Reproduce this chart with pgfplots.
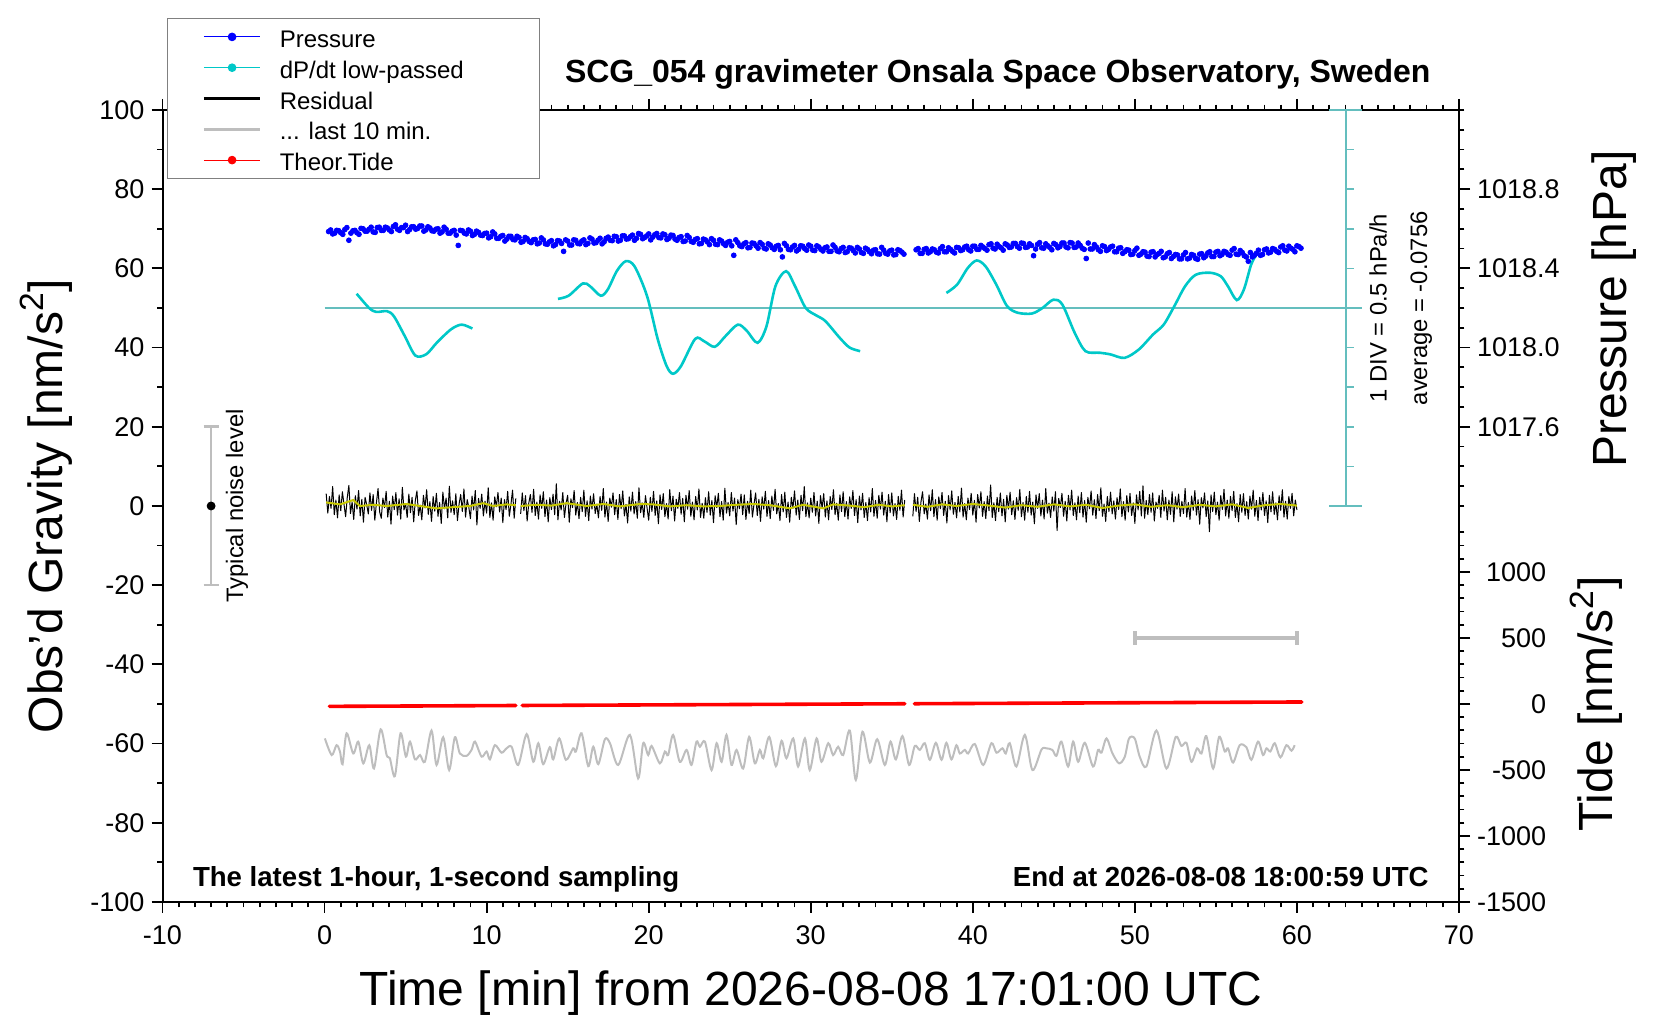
\documentclass[border=0pt]{standalone}
\usepackage{fontspec}
\setmainfont{Liberation Sans}
\usepackage{pgfplots}
\pgfplotsset{compat=1.18}
\definecolor{pblue}{RGB}{0,0,255}
\definecolor{dcyan}{RGB}{0,200,200}
\definecolor{scalec}{RGB}{100,190,190}
\definecolor{lgray}{RGB}{190,190,190}
\definecolor{yel}{RGB}{200,200,0}
\definecolor{legframe}{RGB}{128,128,128}
\pgfplotsset{
  myaxis/.style={
    at={(81.25pt,59pt)}, anchor=south west,
    scale only axis, width=648.25pt, height=396pt,
    xmin=-10, xmax=70,
    tick align=outside,
    major tick length=5.5pt, minor tick length=2.7pt,
    every tick/.style={black, line width=0.9pt},
    axis line style={line width=1pt},
    tick label style={font=\fontsize{13.5}{16}\selectfont},
    /pgf/number format/assume math mode=true,
    /pgf/number format/1000 sep={},
  }
}
\newcommand{\lent}[1]{\makebox[129.8pt][l]{\rule[-3.2pt]{0pt}{15.35pt}#1}}
\begin{document}
\begin{tikzpicture}
\path[use as bounding box] (0,0) rectangle (830pt,510pt);
\begin{axis}[myaxis,
  ymin=-100, ymax=100,
  xtick={-10,0,...,70}, minor x tick num=9,
  ytick={-100,-80,...,100}, minor y tick num=1,
  xtick pos=both, ytick pos=left,
  xticklabel style={yshift=-3pt},
  clip=false,
  legend cell align=left,
  legend style={at={(0.0037,1.1162)}, anchor=north west, draw=legframe, line width=0.5pt, fill=white,
    inner xsep=0pt, inner ysep=2.4pt, row sep=1.75pt, column sep=0pt, nodes={inner sep=0pt},
    font=\fontsize{12}{14}\selectfont},
]
\addlegendimage{legend image code/.code={\path[draw=none,fill=none] (0pt,-1pt) rectangle (56pt,1pt); \draw[pblue, line width=0.5pt] (18pt,0pt) -- (46.3pt,0pt); \fill[pblue] (32.15pt,0pt) circle (1.9pt);}}
\addlegendentry{\lent{Pressure}}
\addlegendimage{legend image code/.code={\path[draw=none,fill=none] (0pt,-1pt) rectangle (56pt,1pt); \draw[dcyan, line width=0.5pt] (18pt,0pt) -- (46.3pt,0pt); \fill[dcyan] (32.15pt,0pt) circle (1.9pt);}}
\addlegendentry{\lent{dP/dt low-passed}}
\addlegendimage{legend image code/.code={\path[draw=none,fill=none] (0pt,-1pt) rectangle (56pt,1pt); \draw[black, line width=1.2pt] (18pt,0pt) -- (46.3pt,0pt);}}
\addlegendentry{\lent{Residual}}
\addlegendimage{legend image code/.code={\path[draw=none,fill=none] (0pt,-1pt) rectangle (56pt,1pt); \draw[lgray, line width=1.8pt] (18pt,0pt) -- (46.3pt,0pt);}}
\addlegendentry{\lent{... last 10 min.}}
\addlegendimage{legend image code/.code={\path[draw=none,fill=none] (0pt,-1pt) rectangle (56pt,1pt); \draw[red, line width=0.5pt] (18pt,0pt) -- (46.3pt,0pt); \fill[red] (32.15pt,0pt) circle (1.9pt);}}
\addlegendentry{\lent{Theor.Tide}}

% typical noise level
\addplot[lgray, line width=1.3pt, forget plot] coordinates {(-7,-20) (-7,20)};
\addplot[lgray, line width=1.3pt, forget plot] coordinates {(-7.46,20) (-6.54,20)};
\addplot[lgray, line width=1.3pt, forget plot] coordinates {(-7.46,-20) (-6.54,-20)};
\addplot[only marks, mark=*, mark size=2pt, black, forget plot] coordinates {(-7,0)};

% gray curve
\addplot[lgray, line width=1pt, smooth, forget plot] coordinates {
(0.02,-58.7)(0.44,-62.9)(0.74,-60.4)(0.95,-62.0)(1.11,-65.2)(1.36,-57.4)(1.77,-62.5)(2.08,-59.5)(2.39,-65.0)(2.76,-60.4)(3.05,-66.3)(3.46,-56.4)(3.83,-62.9)(4.03,-63.7)(4.34,-68.2)(4.69,-57.4)(5.02,-63.3)(5.27,-59.5)(5.58,-64.0)(5.89,-62.9)(6.19,-64.6)(6.6,-56.7)(6.91,-65.4)(7.32,-58.4)(7.69,-66.7)(8.04,-58.4)(8.35,-62.5)(8.76,-63.1)(9.07,-61.6)(9.28,-59.5)(9.69,-63.3)(10.0,-62.0)(10.2,-64.0)(10.51,-60.4)(10.92,-62.3)(11.23,-61.2)(11.54,-60.8)(11.95,-65.4)(12.47,-57.6)(12.88,-64.6)(13.19,-59.9)(13.49,-65.2)(13.9,-60.9)(14.11,-64.0)(14.48,-58.7)(14.89,-64.1)(15.34,-61.2)(15.51,-62.0)(15.86,-57.4)(16.27,-65.7)(16.58,-60.8)(16.89,-65.2)(17.3,-58.9)(17.61,-59.9)(18.12,-65.4)(18.84,-57.8)(19.35,-68.8)(19.66,-59.9)(19.97,-62.9)(20.18,-60.6)(20.69,-65.0)(21.0,-62.0)(21.2,-62.9)(21.51,-57.8)(21.92,-64.6)(22.34,-61.6)(22.64,-65.4)(22.95,-59.5)(23.16,-60.8)(23.47,-59.5)(23.88,-66.7)(24.19,-59.9)(24.5,-64.6)(24.8,-57.8)(25.11,-65.4)(25.42,-61.6)(25.83,-66.3)(26.2,-58.3)(26.55,-65.0)(26.86,-61.6)(27.07,-63.7)(27.44,-58.3)(27.85,-65.7)(28.2,-59.3)(28.5,-63.7)(28.92,-58.7)(29.22,-65.8)(29.64,-58.7)(29.94,-66.7)(30.36,-58.7)(30.66,-64.6)(31.08,-59.9)(31.38,-62.9)(31.69,-60.8)
(32.0,-62.9)(32.41,-56.7)(32.78,-69.2)(33.19,-57.0)(33.65,-64.8)(34.1,-58.9)(34.57,-65.4)(34.92,-59.5)(35.25,-64.0)(35.66,-58.1)(36.07,-65.4)(36.42,-60.6)(36.73,-61.6)(37.04,-59.9)(37.35,-64.1)(37.72,-59.8)(38.07,-64.1)(38.37,-59.8)(38.68,-64.0)(38.99,-60.4)(39.2,-62.5)(39.51,-61.6)(39.71,-62.5)(40.12,-60.1)(40.64,-65.4)(41.15,-59.9)(41.46,-62.3)(41.83,-61.2)(42.03,-62.5)(42.28,-59.9)(42.69,-65.8)(43.21,-57.8)(43.68,-66.7)(44.24,-61.5)(44.54,-61.2)(44.91,-61.6)(45.16,-63.1)(45.47,-59.5)(45.88,-65.8)(46.19,-59.5)(46.5,-64.6)(46.91,-59.8)(47.42,-65.8)(47.73,-61.6)(47.94,-62.3)(48.25,-58.7)(48.62,-62.5)(49.03,-65.0)(49.38,-63.3)(49.64,-58.7)(49.99,-58.7)(50.3,-63.3)(50.71,-65.8)(51.33,-56.7)(51.95,-66.3)(52.52,-58.3)(52.87,-60.6)(53.18,-59.8)(53.49,-64.6)(53.84,-61.2)(54.11,-62.5)(54.41,-58.1)(54.83,-66.3)(55.2,-58.3)(55.55,-62.0)(55.75,-61.2)(56.06,-64.8)(56.47,-60.4)(56.88,-60.9)(57.19,-64.1)(57.6,-59.5)(57.91,-62.9)(58.12,-61.2)(58.36,-62.0)(58.63,-59.9)(58.98,-63.5)(59.35,-60.4)(59.66,-61.8)(59.86,-60.4)
};

% residual
\addplot[black, line width=0.5pt, line join=round, forget plot] coordinates {
(0.1,3.1)(0.2,-1.8)(0.3,2.4)(0.4,-0.6)(0.5,4.9)(0.6,-2.2)(0.7,1.5)(0.8,-3.0)(0.9,2.8)
(1.0,-1.2)(1.1,3.6)(1.2,0.4)(1.3,-2.7)(1.4,2.1)(1.5,5.2)(1.6,-1.9)(1.7,1.0)(1.8,-3.4)(1.9,2.6)
(2.0,-0.8)(2.1,3.9)(2.2,-2.5)(2.3,1.7)(2.4,-4.1)(2.5,2.2)(2.6,0.3)(2.7,-2.0)(2.8,3.3)(2.9,-1.1)
(3.0,2.9)(3.1,-3.6)(3.2,0.8)(3.3,4.4)(3.4,-1.5)(3.5,-3.1)(3.6,2.0)(3.7,-0.4)(3.8,3.7)(3.9,-2.8)
(4.0,1.2)(4.1,-4.6)(4.2,2.5)(4.3,-0.9)(4.4,3.4)(4.5,-2.3)(4.6,1.8)(4.7,-3.3)(4.8,4.7)(4.9,-1.0)
(5.0,0.6)(5.1,-2.9)(5.2,3.0)(5.3,-1.7)(5.4,2.2)(5.5,-4.0)(5.6,1.4)(5.7,3.8)(5.8,-2.4)(5.9,0.2)
(6.0,-3.5)(6.1,2.7)(6.2,-0.5)(6.3,4.1)(6.4,-2.1)(6.5,1.1)(6.6,-3.9)(6.7,2.4)(6.8,-1.3)(6.9,3.2)
(7.0,-2.6)(7.1,0.9)(7.2,-4.4)(7.3,3.5)(7.4,-0.7)(7.5,2.0)(7.6,-3.0)(7.7,5.0)(7.8,-1.6)(7.9,1.3)
(8.0,-2.2)(8.1,3.1)(8.2,-3.7)(8.3,0.5)(8.4,2.9)(8.5,-1.4)(8.6,4.3)(8.7,-2.8)(8.8,1.6)(8.9,-0.3)
(9.0,-3.2)(9.1,2.5)(9.2,-1.0)(9.3,3.9)(9.4,-4.8)(9.5,1.9)(9.6,-0.6)(9.7,3.0)(9.8,-2.5)(9.9,1.2)
(10.0,-1.8)(10.1,4.6)(10.2,-2.9)(10.3,0.8)(10.4,-3.6)(10.5,2.3)(10.6,-0.2)(10.7,3.4)(10.8,-1.5)(10.9,2.0)
(11.0,-4.2)(11.1,1.6)(11.2,-0.9)(11.3,3.7)(11.4,-2.6)(11.5,0.4)(11.6,4.0)(11.7,-3.1)(11.8,1.9)
};
\addplot[black, line width=0.5pt, line join=round, forget plot] coordinates {
(12.1,-2.0)(12.2,3.3)(12.3,-1.2)(12.4,2.6)(12.5,-3.8)(12.6,0.7)(12.7,2.9)(12.8,-1.6)(12.9,4.2)
(13.0,-2.4)(13.1,1.0)(13.2,-3.3)(13.3,2.8)(13.4,-0.6)(13.5,3.6)(13.6,-2.7)(13.7,1.5)(13.8,-4.0)(13.9,2.1)
(14.0,-0.9)(14.1,3.0)(14.2,-2.2)(14.3,5.6)(14.4,-3.5)(14.5,1.2)(14.6,-1.0)(14.7,3.4)(14.8,-2.9)(14.9,0.6)
(15.0,2.7)(15.1,-4.1)(15.2,1.8)(15.3,-0.4)(15.4,3.9)(15.5,-2.3)(15.6,0.9)(15.7,-3.2)(15.8,2.2)(15.9,-1.4)
(16.0,4.0)(16.1,-2.6)(16.2,1.3)(16.3,-3.7)(16.4,2.5)(16.5,-0.8)(16.6,3.1)(16.7,-1.9)(16.8,0.5)(16.9,-3.0)
(17.0,2.4)(17.1,-1.1)(17.2,4.4)(17.3,-2.8)(17.4,1.0)(17.5,-3.9)(17.6,2.0)(17.7,-0.3)(17.8,3.3)(17.9,-2.2)
(18.0,1.6)(18.1,-3.4)(18.2,2.9)(18.3,-0.7)(18.4,3.8)(18.5,-2.5)(18.6,0.4)(18.7,-4.3)(18.8,2.3)(18.9,-1.3)
(19.0,3.5)(19.1,-2.0)(19.2,1.1)(19.3,-3.1)(19.4,4.6)(19.5,-1.7)(19.6,0.8)(19.7,-2.9)(19.8,2.6)(19.9,-0.5)
(20.0,-3.6)(20.1,2.2)(20.2,-1.4)(20.3,3.7)(20.4,-2.4)(20.5,1.3)(20.6,-4.5)(20.7,2.8)(20.8,-0.9)(20.9,3.1)
(21.0,-2.7)(21.1,0.6)(21.2,-3.3)(21.3,4.1)(21.4,-1.2)(21.5,2.5)(21.6,-3.8)(21.7,1.7)(21.8,-0.6)(21.9,3.4)
(22.0,-2.1)(22.1,1.9)(22.2,-4.0)(22.3,2.7)(22.4,-0.8)(22.5,3.9)(22.6,-2.6)(22.7,1.0)(22.8,-3.5)(22.9,2.4)
(23.0,-1.0)(23.1,4.3)(23.2,-2.9)(23.3,0.7)(23.4,-3.1)(23.5,2.1)(23.6,-1.6)(23.7,3.6)(23.8,-2.3)(23.9,1.4)
(24.0,-4.2)(24.1,2.6)(24.2,-0.4)(24.3,3.2)(24.4,-2.7)(24.5,1.1)(24.6,-3.6)(24.7,4.5)(24.8,-1.8)(24.9,0.9)
(25.0,-2.5)(25.1,3.4)(25.2,-1.3)(25.3,2.0)(25.4,-4.7)(25.5,1.6)(25.6,-0.7)(25.7,3.0)(25.8,-2.2)(25.9,2.8)
(26.0,-3.4)(26.1,1.2)(26.2,-1.9)(26.3,4.0)(26.4,-2.8)(26.5,0.5)(26.6,3.3)(26.7,-2.4)(26.8,1.7)(26.9,-3.9)
(27.0,2.3)(27.1,-0.8)(27.2,3.7)(27.3,-2.6)(27.4,1.4)(27.5,-3.2)(27.6,2.5)(27.7,-1.1)(27.8,4.2)(27.9,-2.0)
(28.0,0.6)(28.1,-3.7)(28.2,2.9)(28.3,-1.5)(28.4,3.5)(28.5,-2.9)(28.6,1.0)(28.7,-4.1)(28.8,2.2)(28.9,-0.6)
(29.0,3.8)(29.1,-2.3)(29.2,1.5)(29.3,-3.4)(29.4,2.7)(29.5,-1.2)(29.6,4.9)(29.7,-2.7)(29.8,0.8)(29.9,-3.0)
(30.0,2.0)(30.1,-1.6)(30.2,3.4)(30.3,-2.5)(30.4,1.2)(30.5,-4.4)(30.6,2.6)(30.7,-0.5)(30.8,3.1)(30.9,-2.8)
(31.0,1.3)(31.1,-3.5)(31.2,2.4)(31.3,-0.9)(31.4,4.1)(31.5,-2.2)(31.6,0.7)(31.7,-3.6)(31.8,2.8)(31.9,-1.4)
(32.0,3.6)(32.1,-2.7)(32.2,1.1)(32.3,-3.3)(32.4,2.3)(32.5,-0.6)(32.6,3.9)(32.7,-2.4)(32.8,1.6)(32.9,-4.2)
(33.0,2.5)(33.1,-1.0)(33.2,3.2)(33.3,-2.9)(33.4,0.9)(33.5,-3.7)(33.6,2.1)(33.7,-1.5)(33.8,4.4)(33.9,-2.6)
(34.0,1.4)(34.1,-3.1)(34.2,2.7)(34.3,-0.8)(34.4,3.5)(34.5,-2.3)(34.6,1.2)(34.7,-4.0)(34.8,2.9)(34.9,-1.7)
(35.0,3.3)(35.1,-2.5)(35.2,0.6)(35.3,-3.4)(35.4,2.4)(35.5,-1.1)(35.6,4.0)(35.7,-2.8)(35.8,1.5)
};
\addplot[black, line width=0.5pt, line join=round, forget plot] coordinates {
(36.3,-2.6)(36.4,3.1)(36.5,-1.4)(36.6,2.2)(36.7,-3.9)(36.8,1.0)(36.9,3.6)
(37.0,-2.0)(37.1,0.5)(37.2,-3.3)(37.3,2.8)(37.4,-1.2)(37.5,4.1)(37.6,-2.7)(37.7,1.6)(37.8,-3.6)(37.9,2.3)
(38.0,-0.7)(38.1,3.4)(38.2,-2.4)(38.3,1.2)(38.4,-4.3)(38.5,2.6)(38.6,-1.0)(38.7,3.8)(38.8,-2.1)(38.9,0.9)
(39.0,-3.0)(39.1,2.4)(39.2,-1.5)(39.3,4.5)(39.4,-2.8)(39.5,0.6)(39.6,-3.5)(39.7,2.0)(39.8,-0.9)(39.9,3.2)
(40.0,-2.3)(40.1,1.4)(40.2,-4.1)(40.3,2.9)(40.4,-0.5)(40.5,3.6)(40.6,-2.6)(40.7,1.1)(40.8,-3.2)(40.9,2.5)
(41.0,-1.2)(41.1,5.3)(41.2,-2.9)(41.3,0.8)(41.4,-3.7)(41.5,2.2)(41.6,-1.4)(41.7,3.3)(41.8,-2.5)(41.9,1.7)
(42.0,-4.0)(42.1,2.7)(42.2,-0.8)(42.3,3.5)(42.4,-2.2)(42.5,1.3)(42.6,-3.4)(42.7,2.1)(42.8,-1.1)(42.9,4.2)
(43.0,-2.7)(43.1,0.9)(43.2,-3.6)(43.3,2.4)(43.4,-1.6)(43.5,3.7)(43.6,-2.3)(43.7,1.0)(43.8,-4.5)(43.9,2.8)
(44.0,-0.6)(44.1,3.1)(44.2,-2.5)(44.3,1.5)(44.4,-3.3)(44.5,4.4)(44.6,-1.8)(44.7,0.7)(44.8,-2.9)(44.9,2.3)
(45.0,-1.3)(45.1,3.6)(45.2,-6.2)(45.3,1.9)(45.4,-0.4)(45.5,3.2)(45.6,-2.6)(45.7,1.2)(45.8,-3.8)(45.9,2.7)
(46.0,-1.0)(46.1,4.0)(46.2,-2.4)(46.3,0.8)(46.4,-3.5)(46.5,2.5)(46.6,-1.7)(46.7,3.4)(46.8,-2.8)(46.9,1.4)
(47.0,-4.1)(47.1,2.2)(47.2,-0.7)(47.3,3.8)(47.4,-2.3)(47.5,1.6)(47.6,-3.2)(47.7,2.9)(47.8,-1.2)(47.9,4.6)
(48.0,-2.6)(48.1,0.5)(48.2,-3.9)(48.3,2.4)(48.4,-1.4)(48.5,3.5)(48.6,-2.0)(48.7,1.3)(48.8,-3.3)(48.9,2.1)
(49.0,-0.9)(49.1,4.3)(49.2,-2.7)(49.3,1.1)(49.4,-3.6)(49.5,2.6)(49.6,-1.5)(49.7,3.2)(49.8,-2.4)(49.9,0.8)
(50.0,-4.4)(50.1,2.8)(50.2,-1.0)(50.3,3.7)(50.4,-2.5)(50.5,5.1)(50.6,-3.1)(50.7,1.4)(50.8,-2.2)(50.9,2.9)
(51.0,-1.6)(51.1,3.3)(51.2,-3.8)(51.3,1.0)(51.4,-0.6)(51.5,2.7)(51.6,-2.9)(51.7,4.0)(51.8,-1.3)(51.9,2.2)
(52.0,-3.5)(52.1,1.5)(52.2,-2.1)(52.3,3.6)(52.4,-4.0)(52.5,2.3)(52.6,-0.8)(52.7,3.0)(52.8,-2.6)(52.9,1.2)
(53.0,-1.9)(53.1,4.4)(53.2,-2.8)(53.3,0.9)(53.4,-3.4)(53.5,2.5)(53.6,-1.1)(53.7,3.9)(53.8,-2.3)(53.9,1.6)
(54.0,-4.6)(54.1,2.1)(54.2,-0.5)(54.3,3.3)(54.4,-2.7)(54.5,1.3)(54.6,-6.5)(54.7,2.8)(54.8,-1.4)(54.9,3.5)
(55.0,-2.2)(55.1,1.0)(55.2,-3.6)(55.3,2.6)(55.4,-0.9)(55.5,4.2)(55.6,-2.5)(55.7,1.5)(55.8,-3.1)(55.9,2.4)
(56.0,-1.2)(56.1,3.7)(56.2,-2.9)(56.3,0.6)(56.4,-4.0)(56.5,2.9)(56.6,-1.6)(56.7,3.1)(56.8,-2.4)(56.9,1.1)
(57.0,-3.3)(57.1,2.5)(57.2,-0.8)(57.3,4.0)(57.4,-2.6)(57.5,1.4)(57.6,-3.7)(57.7,2.2)(57.8,-1.0)(57.9,3.4)
(58.0,-2.4)(58.1,1.3)(58.2,-4.2)(58.3,2.7)(58.4,-1.5)(58.5,3.6)(58.6,-2.1)(58.7,0.8)(58.8,-3.5)(58.9,2.6)
(59.0,-1.1)(59.1,4.1)(59.2,-2.8)(59.3,1.2)(59.4,-3.3)(59.5,2.4)(59.6,-0.6)(59.7,3.2)(59.8,-2.5)(59.9,1.5)
(60.0,-1.0)
};
% smoothed residual
\addplot[yel, line width=1pt, forget plot] coordinates {
(0.1,0.9)(0.95,0.4)(1.77,1.5)(2.18,0.0)(3.0,0.3)(3.83,0.0)(5.06,0.5)(5.88,0.0)(6.91,-0.6)(7.94,-0.3)(8.97,0.0)(9.79,0.7)(10.41,0.0)(11.23,0.4)(11.8,0.2)};
\addplot[yel, line width=1pt, forget plot] coordinates {
(12.1,0.0)(13.08,0.3)(14.0,0.1)(14.93,0.7)(16.17,0.0)(17.2,0.5)(18.22,-0.1)(19.46,0.5)(20.28,0.4)(21.31,-0.1)(22.34,0.2)(23.36,-0.1)(24.39,0.0)(25.42,0.3)(26.45,0.5)(27.48,0.2)(28.71,-0.6)(29.53,0.3)(30.77,-0.6)(31.38,0.4)(32.4,0.1)(33.3,-0.3)(34.2,0.3)(35.0,-0.1)(35.8,0.2)};
\addplot[yel, line width=1pt, forget plot] coordinates {
(36.3,0.3)(37.2,-0.2)(38.1,0.4)(39.0,0.0)(40.0,0.5)(41.0,0.1)(42.0,-0.4)(43.0,0.2)(44.0,-0.2)(45.0,0.4)(46.0,-0.1)(47.0,0.3)(48.0,-0.5)(49.0,0.1)(50.0,0.4)(51.0,-0.2)(52.0,0.2)(53.0,-0.3)(54.0,0.3)(55.0,-0.1)(56.0,0.4)(57.0,-0.5)(58.0,0.2)(59.0,0.5)(60.0,0.1)};

% pressure (gravity-equivalent units)
\addplot[only marks, mark=*, mark size=1.2pt, mark options={draw=pblue, fill=pblue}, forget plot] coordinates {
(0.25,69.3)(0.5,68.7)(0.75,69.6)(1.0,69.0)(1.25,69.8)(1.5,67.1)(1.75,69.5)(2.0,69.0)(2.25,70.1)(2.5,69.4)(2.75,69.9)(3.0,69.2)(3.25,70.3)(3.5,69.6)(3.75,70.4)(4.0,69.7)(4.25,70.6)(4.5,69.9)(4.75,70.3)(5.0,70.9)(5.25,69.8)(5.5,70.5)(5.75,70.1)(6.0,70.7)(6.25,69.7)(6.5,70.2)(6.75,69.4)(7.0,70.0)(7.25,69.2)(7.5,69.9)(7.75,68.9)(8.0,69.6)(8.25,65.8)(8.5,69.5)(8.75,68.7)(9.0,69.4)(9.25,68.6)(9.5,69.1)(9.75,68.3)(10.0,68.9)(10.25,68.0)(10.5,68.7)(10.75,67.6)(11.0,68.3)(11.25,67.4)(11.5,68.1)(11.75,67.2)(12.0,67.8)(12.25,66.8)(12.5,67.5)(12.75,66.5)(13.0,67.3)(13.25,66.4)(13.5,67.2)(13.75,66.1)(14.0,67.0)(14.25,66.0)(14.5,66.9)(14.75,64.3)(15.0,66.9)(15.25,65.9)(15.5,67.1)(15.75,66.2)(16.0,67.2)(16.25,66.3)(16.5,67.4)(16.75,66.5)(17.0,67.6)(17.25,66.7)(17.5,67.9)(17.75,67.0)(18.0,68.0)(18.25,67.1)(18.5,68.2)(18.75,67.5)(19.0,68.4)(19.25,67.6)(19.5,68.6)(19.75,67.8)(20.0,68.7)(20.25,67.9)(20.5,68.8)(20.75,67.7)(21.0,68.5)(21.25,67.6)(21.5,68.3)(21.75,67.1)(22.0,68.0)(22.25,66.9)(22.5,67.8)(22.75,66.6)(23.0,67.5)(23.25,66.3)(23.5,67.2)(23.75,66.0)(24.0,67.1)(24.25,66.0)(24.5,66.9)(24.75,65.8)(25.0,66.8)(25.25,63.3)(25.5,66.5)(25.75,65.5)(26.0,66.5)(26.25,65.3)(26.5,66.3)(26.75,65.1)(27.0,66.1)(27.25,64.9)(27.5,65.9)(27.75,64.8)(28.0,65.8)(28.25,62.9)(28.5,65.7)(28.75,64.7)(29.0,65.8)(29.25,64.8)(29.5,65.6)(29.75,64.6)(30.0,65.6)(30.25,64.5)(30.5,65.4)(30.75,64.4)(31.0,65.4)(31.25,64.3)(31.5,65.3)(31.75,64.2)(32.0,65.3)(32.25,64.2)(32.5,65.1)(32.75,63.9)(33.0,64.9)(33.25,63.8)(33.5,64.8)(33.75,63.7)(34.0,64.7)(34.25,63.6)(34.5,64.6)(34.75,63.6)(35.0,64.6)(35.25,63.5)(35.5,64.5)(35.75,63.6)
(36.5,64.7)(36.75,63.8)(37.0,64.8)(37.25,63.9)(37.5,64.9)(37.75,64.1)(38.0,65.0)(38.25,64.2)(38.5,65.2)(38.75,64.3)(39.0,65.3)(39.25,64.5)(39.5,65.4)(39.75,64.7)(40.0,65.6)(40.25,64.8)(40.5,65.8)(40.75,65.0)(41.0,66.0)(41.25,65.1)(41.5,66.1)(41.75,65.2)(42.0,66.2)(42.25,65.3)(42.5,66.3)(42.75,65.5)(43.0,66.4)(43.25,65.3)(43.5,66.2)(43.75,63.2)(44.0,66.1)(44.25,65.2)(44.5,66.2)(44.75,65.3)(45.0,66.3)(45.25,65.2)(45.5,66.4)(45.75,65.4)(46.0,66.5)(46.25,65.3)(46.5,66.4)(46.75,65.1)(47.0,62.5)(47.25,64.9)(47.5,66.0)(47.75,64.7)(48.0,65.7)(48.25,64.5)(48.5,65.4)(48.75,64.2)(49.0,65.1)(49.25,63.8)(49.5,64.7)(49.75,63.5)(50.0,64.5)(50.25,63.3)(50.5,64.2)(50.75,63.1)(51.0,64.1)(51.25,62.9)(51.5,63.8)(51.75,62.7)(52.0,63.7)(52.25,62.5)(52.5,63.5)(52.75,62.4)(53.0,63.4)(53.25,62.4)(53.5,63.5)(53.75,62.5)(54.0,63.6)(54.25,62.7)(54.5,63.9)(54.75,63.0)(55.0,64.1)(55.25,63.2)(55.5,64.3)(55.75,63.5)(56.0,64.6)(56.25,63.6)(56.5,64.5)(56.75,63.2)(57.0,61.8)(57.25,62.9)(57.5,63.8)(57.75,63.3)(58.0,64.7)(58.25,63.9)(58.5,65.0)(58.75,64.3)(59.0,65.4)(59.25,64.6)(59.5,65.6)(59.75,64.8)(60.0,65.7)(60.25,65.1)
};
\addplot[only marks, mark=*, mark size=1.2pt, mark options={draw=pblue, fill=pblue}, forget plot] coordinates {
(0.375,69.7)(0.625,68.9)(0.875,69.5)(1.125,68.6)(1.375,70.3)(1.625,68.9)(1.875,69.6)(2.125,68.6)(2.375,70.0)(2.625,69.4)(2.875,70.4)(3.125,69.1)(3.375,70.4)(3.625,69.6)(3.875,70.2)(4.125,69.3)(4.375,71.0)(4.625,69.6)(4.875,70.3)(5.125,69.3)(5.375,70.5)(5.625,69.9)(5.875,70.7)(6.125,69.4)(6.375,70.5)(6.625,69.5)(6.875,69.9)(7.125,68.9)(7.375,70.4)(7.625,68.9)(7.875,69.4)(8.125,68.4)(8.375,69.6)(8.625,68.9)(8.875,69.7)(9.125,68.3)(9.375,69.4)(9.625,68.4)(9.875,68.8)(10.125,67.7)(10.375,69.2)(10.625,67.6)(10.875,68.1)(11.125,66.9)(11.375,68.1)(11.625,67.3)(11.875,68.1)(12.125,66.6)(12.375,67.8)(12.625,66.8)(12.875,67.2)(13.125,66.2)(13.375,67.7)(13.625,66.2)(13.875,66.7)(14.125,65.7)(14.375,67.0)(14.625,66.3)(14.875,67.2)(15.125,65.9)(15.375,67.2)(15.625,66.3)(15.875,66.9)(16.125,66.0)(16.375,67.7)(16.625,66.4)(16.875,67.1)(17.125,66.2)(17.375,67.6)(17.625,67.1)(17.875,68.1)(18.125,66.9)(18.375,68.2)(18.625,67.4)(18.875,68.0)(19.125,67.1)(19.375,68.8)(19.625,67.5)(19.875,68.2)(20.125,67.2)(20.375,68.5)(20.625,67.8)(20.875,68.7)(21.125,67.3)(21.375,68.4)(21.625,67.4)(21.875,67.8)(22.125,66.8)(22.375,68.3)(22.625,66.8)(22.875,67.3)(23.125,66.2)(23.375,67.4)(23.625,66.7)(23.875,67.5)(24.125,66.1)(24.375,67.2)(24.625,66.2)(24.875,66.6)(25.125,65.7)(25.375,67.2)(25.625,65.7)(25.875,66.2)(26.125,65.2)(26.375,66.4)(26.625,65.7)(26.875,66.5)(27.125,65.1)(27.375,66.2)(27.625,65.2)(27.875,65.6)(28.125,64.7)(28.375,66.3)(28.625,64.8)(28.875,65.4)(29.125,64.4)(29.375,65.7)(29.625,65.0)(29.875,65.9)(30.125,64.6)(30.375,65.7)(30.625,64.8)(30.875,65.2)(31.125,64.3)(31.375,65.9)(31.625,64.4)(31.875,65.0)(32.125,64.0)(32.375,65.2)(32.625,64.5)(32.875,65.3)(33.125,64.0)(33.375,65.1)(33.625,64.2)(33.875,64.6)(34.125,63.7)(34.375,65.3)(34.625,63.8)(34.875,64.4)(35.125,63.4)(35.375,64.7)(35.625,64.1)
(36.625,65.0)(36.875,63.8)(37.125,65.0)(37.375,64.2)(37.625,64.7)(37.875,63.9)(38.125,65.5)(38.375,64.2)(38.625,64.8)(38.875,63.9)(39.125,65.2)(39.375,64.7)(39.625,65.6)(39.875,64.4)(40.125,65.6)(40.375,64.8)(40.625,65.4)(40.875,64.6)(41.125,66.2)(41.375,64.9)(41.625,65.5)(41.875,64.6)(42.125,65.9)(42.375,65.4)(42.625,66.3)(42.875,65.1)(43.125,66.3)(43.375,65.4)(43.625,65.8)(43.875,64.9)(44.125,66.5)(44.375,65.1)(44.625,65.7)(44.875,64.7)(45.125,66.0)(45.375,65.5)(45.625,66.4)(45.875,65.2)(46.125,66.4)(46.375,65.4)(46.625,65.8)(46.875,64.8)(47.125,66.4)(47.375,64.9)(47.625,65.4)(47.875,64.3)(48.125,65.5)(48.375,64.8)(48.625,65.6)(48.875,64.2)(49.125,65.2)(49.375,64.2)(49.625,64.6)(49.875,63.6)(50.125,65.1)(50.375,63.6)(50.625,64.1)(50.875,63.0)(51.125,64.2)(51.375,63.5)(51.625,64.3)(51.875,62.9)(52.125,64.0)(52.375,63.0)(52.625,63.4)(52.875,62.4)(53.125,64.0)(53.375,62.6)(53.625,63.3)(53.875,62.3)(54.125,63.7)(54.375,63.1)(54.625,64.2)(54.875,63.0)(55.125,64.3)(55.375,63.5)(55.625,64.1)(55.875,63.3)(56.125,65.0)(56.375,63.5)(56.625,64.0)(56.875,62.9)(57.125,64.0)(57.375,63.3)(57.625,64.6)(57.875,63.5)(58.125,64.9)(58.375,64.1)(58.625,64.8)(58.875,64.0)(59.125,65.7)(59.375,64.4)(59.625,65.1)(59.875,64.2)(60.125,65.5)
};

% dP/dt scale
\addplot[scalec, line width=1pt, forget plot] coordinates {(0,50) (64,50)};
\addplot[scalec, line width=1pt, forget plot] coordinates {(63,0) (63,100)};
\addplot[scalec, line width=1pt, forget plot] coordinates {(62,0) (64,0)};
\addplot[scalec, line width=1pt, forget plot] coordinates {(62,100) (64,100)};
\addplot[scalec, line width=0.8pt, forget plot] coordinates {(63,10)(63.5,10)};
\addplot[scalec, line width=0.8pt, forget plot] coordinates {(63,20)(63.5,20)};
\addplot[scalec, line width=0.8pt, forget plot] coordinates {(63,30)(63.5,30)};
\addplot[scalec, line width=0.8pt, forget plot] coordinates {(63,40)(63.5,40)};
\addplot[scalec, line width=0.8pt, forget plot] coordinates {(63,60)(63.5,60)};
\addplot[scalec, line width=0.8pt, forget plot] coordinates {(63,70)(63.5,70)};
\addplot[scalec, line width=0.8pt, forget plot] coordinates {(63,80)(63.5,80)};
\addplot[scalec, line width=0.8pt, forget plot] coordinates {(63,90)(63.5,90)};

% dP/dt low-passed
\addplot[dcyan, line width=1.3pt, smooth, forget plot] coordinates {
(1.98,53.6)(2.75,50.0)(3.19,49.0)(3.85,49.2)(4.28,47.9)(4.95,42.9)(5.6,38.0)(6.27,38.3)(6.92,41.2)(7.8,44.6)(8.46,45.8)(9.12,44.8)};
\addplot[dcyan, line width=1.3pt, smooth, forget plot] coordinates {
(14.4,52.3)(15.06,53.1)(15.94,56.2)(16.38,55.5)(17.04,53.1)(17.48,54.7)(18.03,59.3)(18.58,61.8)(19.13,60.5)(19.9,53.0)(20.56,42.1)(21.11,35.3)(21.5,33.4)(21.99,35.3)(22.87,42.2)(23.42,41.6)(24.08,40.2)(24.74,42.9)(25.5,45.8)(26.06,44.2)(26.72,41.2)(27.27,45.4)(27.82,55.5)(28.48,59.3)(29.03,55.5)(29.69,50.0)(30.35,48.1)(30.9,46.7)(31.78,42.5)(32.4,40.0)(33.05,39.1)};
\addplot[dcyan, line width=1.3pt, smooth, forget plot] coordinates {
(38.37,53.8)(39.03,55.9)(39.69,60.1)(40.24,62.0)(40.79,60.5)(41.45,55.9)(42.11,50.5)(42.77,48.8)(43.65,48.6)(44.3,50.0)(44.97,52.1)(45.52,50.9)(46.29,43.7)(46.95,39.1)(47.83,38.7)(48.48,38.3)(49.36,37.4)(50.24,39.5)(51.12,43.3)(51.78,45.8)(52.44,50.5)(53.1,55.5)(53.76,58.4)(54.64,58.9)(55.3,58.0)(55.74,55.5)(56.29,52.0)(56.73,54.7)(57.17,60.9)(57.5,63.5)};

% last 10 min bar
\addplot[lgray, line width=2pt, forget plot] coordinates {(50,-33.4) (60,-33.4)};
\addplot[lgray, line width=2pt, forget plot] coordinates {(50,-31.6) (50,-35.2)};
\addplot[lgray, line width=2pt, forget plot] coordinates {(60,-31.6) (60,-35.2)};
\end{axis}

% pressure axis
\begin{axis}[myaxis,
  ymin=1015.2, ymax=1019.2,
  axis x line=none, axis y line*=right,
  ytick={1017.6,1018.0,1018.4,1018.8},
  minor ytick={1017.2,1017.3,1017.4,1017.5,1017.7,1017.8,1017.9,1018.1,1018.2,1018.3,1018.5,1018.6,1018.7,1018.9,1019.0,1019.1,1019.2},
  yticklabel style={/pgf/number format/fixed, /pgf/number format/fixed zerofill, /pgf/number format/precision=1},
]
\addplot[draw=none, forget plot] coordinates {(0,1018)};
\end{axis}

% tide axis
\begin{axis}[myaxis,
  ymin=-1500, ymax=4500,
  axis x line=none, axis y line*=right,
  ytick={-1500,-1000,-500,0,500,1000},
  minor ytick={-1400,-1300,-1200,-1100,-900,-800,-700,-600,-400,-300,-200,-100,100,200,300,400,600,700,800,900,1100,1200,1300},
  yticklabel style={text width=45pt, align=right, xshift=-10.5pt},
]
\addplot[red, line width=1.8pt, line cap=round] coordinates {(0.3,-18) (6,-14.9) (11.8,-11.5)};
\addplot[red, line width=1.8pt, line cap=round] coordinates {(12.2,-11.3) (24,-4.8) (35.8,1.7)};
\addplot[red, line width=1.8pt, line cap=round] coordinates {(36.4,2.0) (48,8.5) (60.3,15.2)};
\end{axis}

% labels
\node[rotate=90, anchor=base, inner sep=0pt, font=\fontsize{24}{28}\selectfont] at (31pt,257pt) {Obs'd Gravity [nm/s\textsuperscript{2}]};
\node[anchor=base, inner sep=0pt, font=\fontsize{24}{28}\selectfont] at (405.5pt,7pt) {Time [min] from 2026-08-08 17:01:00 UTC};
\node[rotate=90, anchor=base, inner sep=0pt, font=\fontsize{24}{28}\selectfont] at (813pt,355.5pt) {Pressure [hPa]};
\node[rotate=90, anchor=base, inner sep=0pt, font=\fontsize{24}{28}\selectfont] at (806pt,158pt) {Tide [nm/s\textsuperscript{2}]};
\node[anchor=base east, inner sep=0pt, font=\bfseries\fontsize{16}{19}\selectfont] at (715.5pt,468.5pt) {SCG\_054 gravimeter Onsala Space Observatory, Sweden};
\node[anchor=base west, inner sep=0pt, font=\bfseries\fontsize{13.8}{16}\selectfont] at (96.3pt,66.5pt) {The latest 1-hour, 1-second sampling};
\node[anchor=base east, inner sep=0pt, font=\bfseries\fontsize{13.8}{16}\selectfont] at (714.5pt,66.5pt) {End at 2026-08-08 18:00:59 UTC};
\node[rotate=90, anchor=base, inner sep=0pt, font=\fontsize{11.9}{14}\selectfont] at (693.35pt,355.85pt) {1 DIV = 0.5 hPa/h};
\node[rotate=90, anchor=base, inner sep=0pt, font=\fontsize{11.9}{14}\selectfont] at (713.5pt,355.85pt) {average = -0.0756};
\node[rotate=90, anchor=base, inner sep=0pt, font=\fontsize{11.9}{14}\selectfont] at (121.5pt,257pt) {Typical noise level};
\end{tikzpicture}
\end{document}
